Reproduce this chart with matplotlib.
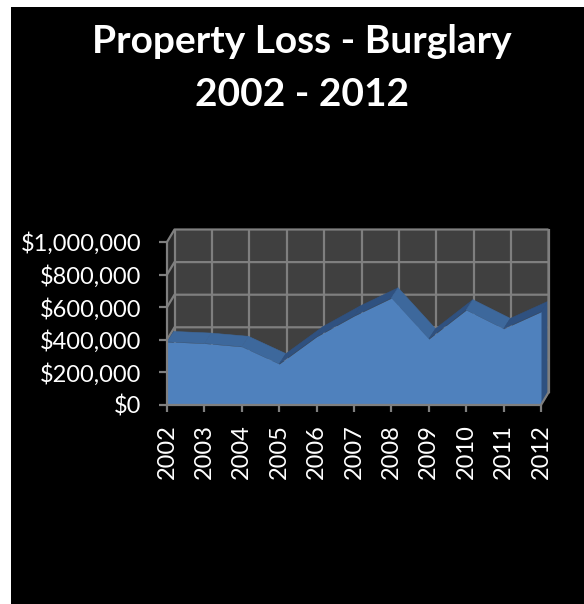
import numpy as np
import matplotlib
matplotlib.use("Agg")
import matplotlib.pyplot as plt
from matplotlib.patches import Polygon, Rectangle

years = [2002, 2003, 2004, 2005, 2006, 2007, 2008, 2009, 2010, 2011, 2012]
losses = [388000, 378000, 358000, 252000, 419000, 546000, 656000, 405000, 583000, 468000, 572000]
y_ticks = [0, 200000, 400000, 600000, 800000, 1000000]
y_labels = ["$0", "$200,000", "$400,000", "$600,000", "$800,000", "$1,000,000"]
title_lines = ["Property Loss - Burglary", "2002 - 2012"]

W, H = 584, 604
GRID = "#7f7f7f"
plt.rcParams["font.family"] = ["Lato", "DejaVu Sans"]

fig = plt.figure(figsize=(W / 100, H / 100), dpi=100, facecolor="white")
fig.add_artist(Rectangle((11 / W, 0), 1, 1 - 7 / H, transform=fig.transFigure, color="black", lw=0, zorder=-1))

# axes box is the front plane of the fake 3d chart
ax = fig.add_axes([167 / W, (H - 405) / H, 374 / W, 163 / H])
ax.set_xlim(years[0], years[-1])
ax.set_ylim(0, 1000000)
ax.axis("off")

# pixels to data units
px_x = (years[-1] - years[0]) / 374
px_y = 1000000 / 163

# depth offset of the back wall, the area sits a bit in front of it
dx = 7.5 * px_x
dy = 12.5 * px_y
sx = 6.7 * px_x
sy = 10.3 * px_y


def poly(pts, color, z):
    ax.add_patch(Polygon(pts, closed=True, facecolor=color, edgecolor=color, lw=0.4, zorder=z, clip_on=False))


def line(xs, ys, z=2, lw=1.6):
    ax.plot(xs, ys, color=GRID, lw=lw, zorder=z, clip_on=False, solid_capstyle="butt")


x0, x1 = years[0], years[-1]
y1 = y_ticks[-1]

# walls
poly([(x0 + dx, dy), (x1 + dx, dy), (x1 + dx, y1 + dy), (x0 + dx, y1 + dy)], "#404040", 1)
poly([(x0, 0), (x0 + dx, dy), (x0 + dx, y1 + dy), (x0, y1)], "#2b2b2b", 1)
poly([(x0, 0), (x1, 0), (x1 + dx, dy), (x0 + dx, dy)], "#2b2b2b", 1)

# gridlines on back and side wall
for t in y_ticks:
    line([x0, x0 + dx, x1 + dx], [t, t + dy, t + dy])
for yr in years:
    line([yr + dx, yr + dx], [dy, y1 + dy])

# area top faces, lighter where the line falls
for i in range(len(years) - 1):
    a, b = years[i], years[i + 1]
    va, vb = losses[i], losses[i + 1]
    c = "#3d689c" if vb < va else "#2f5180"
    poly([(a, va), (b, vb), (b + sx, vb + sy), (a + sx, va + sy)], c, 3)

# right end cap and the front face
poly([(x1, 0), (x1 + sx, sy), (x1 + sx, losses[-1] + sy), (x1, losses[-1])], "#2f5180", 4)
ax.fill_between(years, losses, 0, color="#4f81bd", lw=0, zorder=5, clip_on=False)

# axis lines and ticks
line([x0, x0], [0, y1], z=6)
line([x0, x1, x1 + dx, x1 + dx], [0, 0, dy, y1 + dy], z=6)
for t, lab in zip(y_ticks, y_labels):
    line([x0 - 8.5 * px_x, x0], [t, t], z=6)
    ax.text(x0 - 26 * px_x, t, lab, color="white", fontsize=17, ha="right", va="center_baseline", clip_on=False)
for yr in years:
    line([yr, yr], [-7 * px_y, 0], z=6)
    ax.text(yr, -19 * px_y, str(yr), color="white", fontsize=17, rotation=90,
            ha="center", va="top", clip_on=False)

fig.text(302 / W, 1 - 53 / H, title_lines[0], color="white", fontsize=28, fontweight="bold", ha="center", va="baseline")
fig.text(302 / W, 1 - 106 / H, title_lines[1], color="white", fontsize=28, fontweight="bold", ha="center", va="baseline")

fig.savefig("out.png", dpi=100)
